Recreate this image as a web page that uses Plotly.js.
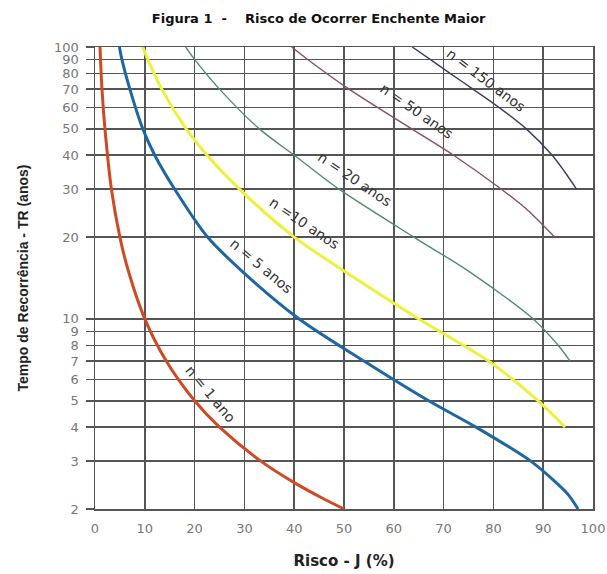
<!DOCTYPE html>
<html><head><meta charset="utf-8">
<script src="https://cdn.plot.ly/plotly-3.0.1.min.js"></script>
<style>html,body{margin:0;padding:0;background:#fff}#c{width:607px;height:574px}</style>
</head><body><div id="c"></div>
<script>
// Tempo de recorrência (TR) and risco J (%)
const tr1 = [100, 70, 50, 30, 20, 15, 10, 7, 5, 4, 3, 2.5, 2.2, 2];
const j1  = [1.0, 1.4, 2.0, 3.3, 5.0, 6.7, 10, 14.3, 20, 25, 33.3, 40, 45.5, 50];

const tr5 = [100, 90, 70, 50, 40, 30, 20, 15, 10, 7, 5, 4, 3, 2.5, 2.25, 2];
const j5  = [4.9, 5.4, 7.0, 9.6, 12, 16, 22.6, 29.5, 41, 54, 67, 76.5, 87.5, 92.6, 95.1, 97];

const tr10 = [100, 90, 70, 50, 40, 30, 20, 15, 10, 7, 5, 4];
const j10  = [9.6, 10.6, 13.4, 18.3, 22.5, 29, 40, 50, 65, 79, 89, 94.4];

const tr20 = [100, 90, 70, 50, 40, 30, 20, 15, 10, 8, 7];
const j20  = [18.2, 20, 25, 33, 40, 49, 64, 75, 88, 93, 95.4];

const tr50 = [100, 90, 70, 50, 40, 30, 25, 20];
const j50  = [39.5, 42.7, 51, 63.6, 72, 81.6, 87, 92.3];

const tr150 = [100, 90, 80, 70, 60, 50, 40, 35, 30];
const j150  = [63.7, 67.3, 71.3, 75.9, 81.1, 86.6, 91.8, 94.2, 96.7];

const yTicks = [2,3,4,5,6,7,8,9,10,20,30,40,50,60,70,80,90,100];
const xTicks = [0,10,20,30,40,50,60,70,80,90,100];

const labels = ['n = 1 ano', 'n = 5 anos', 'n =10 anos', 'n = 20 anos', 'n = 50 anos', 'n = 150 anos'];
const labelX = [23.2, 33.4, 42.0, 52.1, 64.6, 78.5];
const labelY = [5.3, 15.6, 22.5, 32.6, 58.0, 75.5];
const labelAng = [50, 40, 34, 34, 35, 37];

const SANS = 'DejaVu Sans, Verdana, sans-serif';
const ARIAL = 'Liberation Sans, Arial, sans-serif';
function tr(x, y, color, width) {
  return {x: x, y: y, mode: 'lines', type: 'scatter', line: {color: color, width: width, shape: 'spline', smoothing: 0.8}, hoverinfo: 'skip'};
}
const data = [
  tr(j1, tr1, '#cf4a22', 3),
  tr(j5, tr5, '#1f67a3', 3),
  tr(j10, tr10, '#eef03c', 3),
  tr(j20, tr20, '#4f8c70', 1.4),
  tr(j50, tr50, '#8a4d6c', 1.4),
  tr(j150, tr150, '#3b3d66', 1.4)
];
const annotations = labels.map((t, i) => ({
  x: labelX[i], y: Math.log10(labelY[i]), xref: 'x', yref: 'y', text: t,
  showarrow: false, textangle: labelAng[i],
  font: {family: SANS, size: 14, color: '#333'}
}));
const layout = {
  width: 607, height: 574,
  margin: {l: 95, r: 14, t: 47, b: 65},
  paper_bgcolor: '#fff', plot_bgcolor: '#fff',
  showlegend: false,
  title: {text: 'Figura 1  -    Risco de Ocorrer Enchente Maior', font: {family: SANS, size: 13, color: '#111', weight: 'bold'}, x: 0.525, xanchor: 'center', y: 0.968, yanchor: 'middle'},
  xaxis: {
    range: [0, 100], tickvals: xTicks, ticktext: xTicks.map(String),
    showgrid: true, gridcolor: '#555', gridwidth: 1.5, zeroline: false,
    showline: true, linecolor: '#555', linewidth: 1.5, mirror: true,
    ticks: '', tickfont: {family: SANS, size: 13, color: '#777'},
    ticklabelstandoff: 7,
    title: {text: 'Risco - J (%)', font: {family: SANS, size: 15, color: '#222', weight: 'bold'}, standoff: 20}
  },
  yaxis: {
    type: 'log', range: [Math.log10(2), 2], tickvals: yTicks, ticktext: yTicks.map(String),
    showgrid: true, gridcolor: '#555', gridwidth: 1.5, zeroline: false,
    showline: true, linecolor: '#555', linewidth: 1.5, mirror: true,
    ticks: 'outside', ticklen: 8, tickcolor: '#555', tickwidth: 1.5,
    tickfont: {family: SANS, size: 13, color: '#777'},
    ticklabelstandoff: 4,
    title: {text: 'Tempo de Recorrência - TR (anos)', font: {family: ARIAL, size: 14, color: '#222', weight: 'bold'}, standoff: 22}
  },
  annotations: annotations
};
Plotly.newPlot('c', data, layout, {staticPlot: true, displayModeBar: false});
</script></body></html>
